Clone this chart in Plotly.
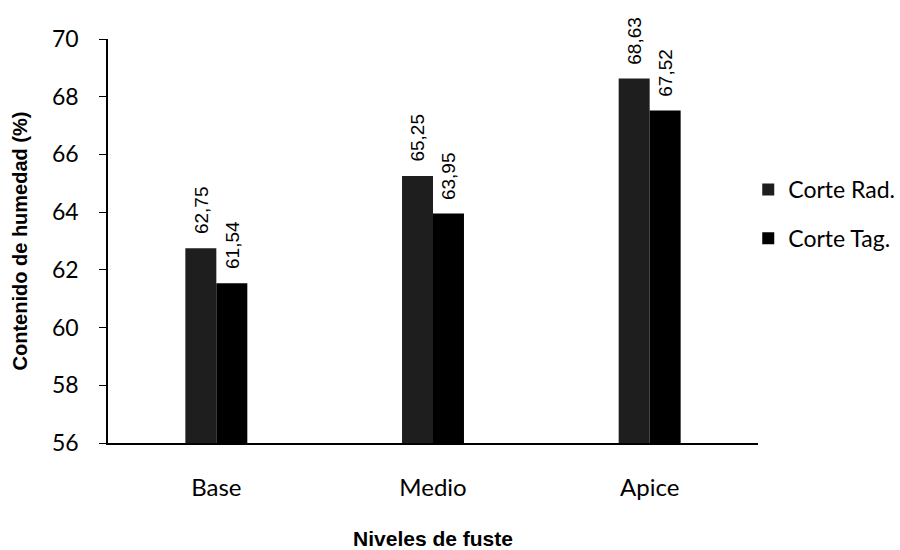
import plotly.graph_objects as go

niveles = ["Base", "Medio", "Apice"]
corte_rad = [62.75, 65.25, 68.63]
corte_tag = [61.54, 63.95, 67.52]
y_ticks = [56, 58, 60, 62, 64, 66, 68, 70]

BAR_GAP = 0.714
PLOT_W = 650
bar_px = PLOT_W / len(niveles) * (1 - BAR_GAP) / 2

fig = go.Figure()
fig.add_trace(go.Bar(
    x=niveles, y=corte_rad, name="Corte Rad.",
    marker=dict(color="#1e1e1e", line=dict(width=0)),
    legendgroup="rad",
))
fig.add_trace(go.Bar(
    x=niveles, y=corte_tag, name="Corte Tag.",
    marker=dict(color="#000000", line=dict(width=0)),
    legendgroup="tag",
))

# vertical value labels above each bar (decimal comma)
def fmt(v):
    return f"{v:.2f}".replace(".", ",")

for series, shift in ((corte_rad, -bar_px / 2), (corte_tag, bar_px / 2)):
    for cat, val in zip(niveles, series):
        fig.add_annotation(
            x=cat, y=val, xref="x", yref="y",
            text=fmt(val), showarrow=False, textangle=-90,
            xanchor="center", yanchor="bottom",
            xshift=shift, yshift=12,
            font=dict(family="Liberation Sans, Arial, sans-serif", size=19, color="black"),
        )

fig.update_layout(
    width=900, height=550,
    margin=dict(l=108, r=142, t=39, b=107, autoexpand=False),
    paper_bgcolor="white", plot_bgcolor="white",
    barmode="group", bargap=BAR_GAP, bargroupgap=0,
    font=dict(family="Lato, Open Sans, sans-serif", size=16, color="black"),
    showlegend=True,
    legend=dict(
        x=0.985, y=0.567, xanchor="left", yanchor="middle",
        font=dict(family="Lato, Open Sans, sans-serif", size=23, color="black"),
        traceorder="grouped", tracegroupgap=16,
        bgcolor="rgba(0,0,0,0)",
    ),
    xaxis=dict(
        showline=True, linecolor="black", linewidth=1.5,
        ticks="", showgrid=False, automargin=False,
        ticklabelstandoff=22,
        tickfont=dict(family="Lato, Open Sans, sans-serif", size=24),
        title=dict(text="Niveles de fuste", standoff=33,
                   font=dict(family="Liberation Sans Narrow, Arial Narrow, sans-serif", size=21, weight="bold")),
    ),
    yaxis=dict(
        range=[56, 70], tickvals=y_ticks,
        showline=True, linecolor="black", linewidth=1.5,
        ticks="outside", ticklen=7, tickcolor="black",
        ticklabelstandoff=16, automargin=False,
        showgrid=False, zeroline=False,
        tickfont=dict(family="Lato, Open Sans, sans-serif", size=23),
        title=dict(text="Contenido de humedad (%)", standoff=19,
                   font=dict(family="Liberation Sans Narrow, Arial Narrow, sans-serif", size=20, weight="bold")),
    ),
)

fig.write_html("out.html")
